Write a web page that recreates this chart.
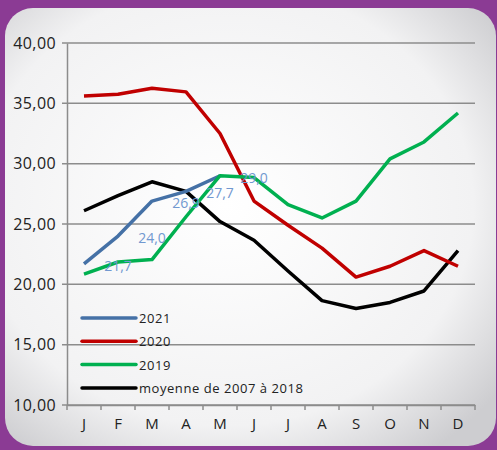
<!DOCTYPE html>
<html>
<head>
<meta charset="utf-8">
<script src="https://cdn.jsdelivr.net/npm/d3@7"></script>
<style>
  body { margin: 0; background: #8b3b94; }
  svg { display: block; }
</style>
</head>
<body>
<div id="visual"></div>
<script>
var months = ["J", "F", "M", "A", "M", "J", "J", "A", "S", "O", "N", "D"];
var yTicks = [10, 15, 20, 25, 30, 35, 40];

var seriesNames = ["2021", "2020", "2019", "moyenne de 2007 à 2018"];
var seriesColors = ["#4571a6", "#c00000", "#00b050", "#000000"];

var values2021 = [21.7, 24.0, 26.9, 27.7, 29.0];
var values2020 = [35.6, 35.75, 36.25, 35.95, 32.5, 26.9, 24.9, 23.0, 20.6, 21.5, 22.8, 21.5];
var values2019 = [20.85, 21.85, 22.05, 25.6, 29.0, 28.85, 26.6, 25.5, 26.9, 30.4, 31.8, 34.2];
var valuesMoy = [26.1, 27.35, 28.5, 27.7, 25.2, 23.65, 21.1, 18.65, 18.0, 18.5, 19.45, 22.8];

var labels2021 = ["21,7", "24,0", "26,9", "27,7", "29,0"];

var width = 497,
  height = 450;
var plotLeft = 67,
  plotRight = 475,
  plotTop = 43,
  plotBottom = 405;

var svg = d3
  .select("#visual")
  .append("svg")
  .attr("width", width)
  .attr("height", height);

var defs = svg.append("defs");
var grad = defs
  .append("radialGradient")
  .attr("id", "panel")
  .attr("cx", "45%")
  .attr("cy", "45%")
  .attr("r", "70%");
grad.append("stop").attr("offset", "0%").attr("stop-color", "#ffffff");
grad.append("stop").attr("offset", "72%").attr("stop-color", "#f2f2f3");
grad.append("stop").attr("offset", "100%").attr("stop-color", "#cdcdd0");

//purple frame + light panel
svg
  .append("rect")
  .attr("width", width)
  .attr("height", height)
  .attr("fill", "#8b3b94");
svg
  .append("rect")
  .attr("x", 5)
  .attr("y", 8)
  .attr("width", 491)
  .attr("height", 438)
  .attr("rx", 28)
  .attr("fill", "url(#panel)");

//scales
var xScale = d3
  .scaleBand()
  .domain(d3.range(12))
  .range([plotLeft, plotRight]);

var yScale = d3
  .scaleLinear()
  .domain([10, 40])
  .range([plotBottom, plotTop]);

var xc = i => xScale(i) + xScale.bandwidth() / 2;

//grid
svg
  .append("g")
  .selectAll("line")
  .data(yTicks)
  .enter()
  .append("line")
  .attr("x1", plotLeft - 5)
  .attr("x2", plotRight)
  .attr("y1", d => yScale(d))
  .attr("y2", d => yScale(d))
  .attr("stroke", "#8c8c8c")
  .attr("stroke-width", 1.5);

//y axis
var yAxis = d3
  .axisLeft(yScale)
  .tickValues(yTicks)
  .tickSize(0)
  .tickPadding(11)
  .tickFormat(d => d3.format(".2f")(d).replace(".", ","));

svg
  .append("g")
  .attr("transform", "translate(" + plotLeft + ",0)")
  .call(yAxis)
  .call(g => g.select(".domain").attr("stroke", "#8c8c8c").attr("stroke-width", 1.5))
  .selectAll("text")
  .attr("font-family", "'Open Sans', sans-serif")
  .attr("font-size", 16)
  .attr("letter-spacing", 0.4)
  .attr("fill", "#222");

//x axis
var xAxis = d3
  .axisBottom(xScale)
  .tickSize(0)
  .tickPadding(13)
  .tickFormat(i => months[i]);

var xg = svg
  .append("g")
  .attr("transform", "translate(0," + plotBottom + ")")
  .call(xAxis);
xg.select(".domain").attr("stroke", "#8c8c8c").attr("stroke-width", 1.5);
xg.selectAll("text")
  .attr("font-family", "'Open Sans', sans-serif")
  .attr("font-size", 15)
  .attr("fill", "#222");

//ticks at band edges
xg.selectAll(".edge")
  .data(d3.range(13))
  .enter()
  .append("line")
  .attr("x1", i => plotLeft + i * xScale.step())
  .attr("x2", i => plotLeft + i * xScale.step())
  .attr("y1", 0)
  .attr("y2", 5)
  .attr("stroke", "#8c8c8c")
  .attr("stroke-width", 1.5);

//lines
var line = d3
  .line()
  .x((d, i) => xc(i))
  .y(d => yScale(d));

var allSeries = [values2021, values2020, values2019, valuesMoy];

//moyenne drawn at the back
[3, 0, 1, 2].forEach(function(k) {
  svg
    .append("path")
    .attr("d", line(allSeries[k]))
    .attr("fill", "none")
    .attr("stroke", seriesColors[k])
    .attr("stroke-width", 3.5)
    .attr("stroke-linejoin", "round");
});

//2021 data labels
svg
  .append("g")
  .selectAll("text")
  .data(values2021)
  .enter()
  .append("text")
  .attr("x", (d, i) => xc(i + 1))
  .attr("y", d => yScale(d) + 7)
  .attr("text-anchor", "middle")
  .attr("font-family", "'Open Sans', sans-serif")
  .attr("font-size", 14)
  .attr("fill", "#7198d0")
  .text((d, i) => labels2021[i]);

//legend
var legend = svg
  .append("g")
  .selectAll("g")
  .data(seriesNames)
  .enter()
  .append("g")
  .attr("transform", (d, i) => "translate(82," + (318 + i * 23.3) + ")");

legend
  .append("line")
  .attr("x1", 0)
  .attr("x2", 54)
  .attr("stroke", (d, i) => seriesColors[i])
  .attr("stroke-width", 3.5)
  .attr("stroke-linecap", "round");

legend
  .append("text")
  .attr("x", 57)
  .attr("y", 5)
  .attr("font-family", "'Open Sans', sans-serif")
  .attr("font-size", 13)
  .attr("letter-spacing", 0.55)
  .attr("fill", "#222")
  .text(d => d);
</script>
</body>
</html>
